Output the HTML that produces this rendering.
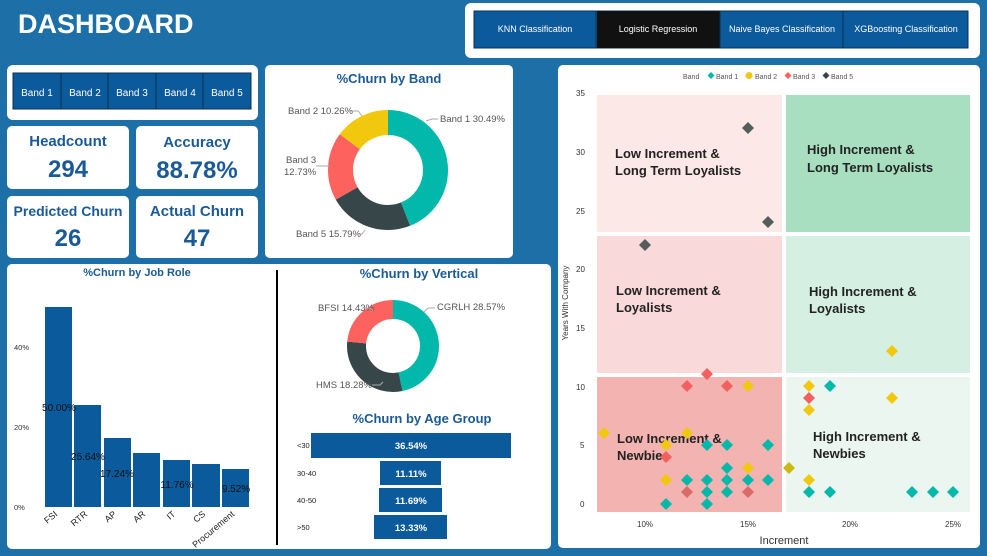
<!DOCTYPE html>
<html><head><meta charset="utf-8"><style>
body{margin:0;width:987px;height:556px;overflow:hidden;background:#1d6fa8}
svg{display:block}
text{font-family:"Liberation Sans",sans-serif}
</style></head><body>
<svg width="987" height="556" viewBox="0 0 987 556">
<rect width="987" height="556" fill="#1d6fa8"/>
<text x="18" y="33" font-size="27" font-weight="bold" fill="#fff">DASHBOARD</text>
<!-- model buttons -->
<rect x="465" y="3" width="515" height="55" rx="6" fill="#fff"/>
<rect x="474" y="11" width="494" height="37" fill="#0b5a9c" stroke="#0a3050"/>
<rect x="597" y="11" width="123" height="37" fill="#111"/>
<line x1="720" y1="11" x2="720" y2="48" stroke="#0a3050"/><line x1="843" y1="11" x2="843" y2="48" stroke="#0a3050"/><line x1="596" y1="11" x2="596" y2="48" stroke="#0a3050"/>
<g font-size="9" fill="#fff" text-anchor="middle">
<text x="535" y="32">KNN Classification</text><text x="658" y="32">Logistic Regression</text><text x="782" y="32">Naive Bayes Classification</text><text x="906" y="32">XGBoosting Classification</text></g>
<!-- band slicer -->
<rect x="7" y="65" width="251" height="55" rx="6" fill="#fff"/>
<rect x="13" y="73" width="238" height="36" fill="#0b5a9c" stroke="#0a3050"/>
<g stroke="#0a3050"><line x1="61" y1="73" x2="61" y2="109"/><line x1="108" y1="73" x2="108" y2="109"/><line x1="156" y1="73" x2="156" y2="109"/><line x1="203" y1="73" x2="203" y2="109"/></g>
<g font-size="10" fill="#fff" text-anchor="middle"><text x="37" y="96">Band 1</text><text x="85" y="96">Band 2</text><text x="132" y="96">Band 3</text><text x="180" y="96">Band 4</text><text x="227" y="96">Band 5</text></g>
<!-- KPIs -->
<g fill="#fff"><rect x="7" y="126" width="122" height="63" rx="5"/><rect x="136" y="126" width="122" height="63" rx="5"/><rect x="7" y="196" width="122" height="62" rx="5"/><rect x="136" y="196" width="122" height="62" rx="5"/></g>
<g fill="#1a5a96" font-weight="bold" text-anchor="middle">
<text x="68" y="146" font-size="15">Headcount</text><text x="68" y="177" font-size="24">294</text>
<text x="197" y="147" font-size="15">Accuracy</text><text x="197" y="178" font-size="24">88.78%</text>
<text x="68" y="216" font-size="14">Predicted Churn</text><text x="68" y="246" font-size="24">26</text>
<text x="197" y="216" font-size="15">Actual Churn</text><text x="197" y="246" font-size="24">47</text></g>
<!-- churn by band -->
<rect x="265" y="65" width="248" height="193" rx="5" fill="#fff"/>
<text x="389" y="83" font-size="13" font-weight="bold" fill="#1a5a96" text-anchor="middle">%Churn by Band</text>
<g fill="none" stroke-width="25">
<circle cx="388" cy="170" r="47.5" stroke="#01b8aa" stroke-dasharray="131.1 300" transform="rotate(-90 388 170)"/>
<circle cx="388" cy="170" r="47.5" stroke="#374649" stroke-dasharray="0 131.1 67.9 300" transform="rotate(-90 388 170)"/>
<circle cx="388" cy="170" r="47.5" stroke="#fd625e" stroke-dasharray="0 199 54.7 300" transform="rotate(-90 388 170)"/>
<circle cx="388" cy="170" r="47.5" stroke="#f2c80f" stroke-dasharray="0 253.7 44.8 300" transform="rotate(-90 388 170)"/>
</g>
<g font-size="9.5" fill="#555"><text x="440" y="122">Band 1 30.49%</text><text x="288" y="114">Band 2 10.26%</text><text x="286" y="163">Band 3</text><text x="284" y="175">12.73%</text><text x="296" y="237">Band 5 15.79%</text></g>
<g stroke="#aaa" fill="none"><path d="M348 111 H358 L362 116"/><path d="M426 121 L432 119 H438"/><path d="M316 166 H330"/><path d="M356 234 H362 L365 230"/></g>
<!-- bottom-left panel -->
<rect x="7" y="264" width="544" height="285" rx="5" fill="#fff"/>
<line x1="277" y1="270" x2="277" y2="545" stroke="#000" stroke-width="2"/>
<text x="137" y="276" font-size="11" font-weight="bold" fill="#1a5a96" text-anchor="middle">%Churn by Job Role</text>
<g font-size="7.5" fill="#333"><text x="14" y="350">40%</text><text x="14" y="430">20%</text><text x="14" y="510">0%</text></g>
<g fill="#0b5a9c">
<rect x="45" y="307" width="27" height="200"/><rect x="74" y="405" width="27" height="102"/><rect x="104" y="438" width="27" height="69"/><rect x="133" y="453" width="27" height="54"/><rect x="163" y="460" width="27" height="47"/><rect x="192" y="464" width="28" height="43"/><rect x="222" y="469" width="27" height="38"/></g>
<g font-size="10" fill="#111" text-anchor="middle"><text x="59" y="411">50.00%</text><text x="88" y="460">25.64%</text><text x="117" y="477">17.24%</text><text x="177" y="488">11.76%</text><text x="236" y="492">9.52%</text></g>
<g font-size="9" fill="#222" text-anchor="end">
<text transform="translate(58,515) rotate(-40)">FSI</text><text transform="translate(88,515) rotate(-40)">RTR</text><text transform="translate(117,515) rotate(-40)">AP</text><text transform="translate(146,515) rotate(-40)">AR</text><text transform="translate(176,515) rotate(-40)">IT</text><text transform="translate(206,515) rotate(-40)">CS</text><text transform="translate(235,515) rotate(-40)">Procurement</text></g>
<!-- vertical donut -->
<text x="419" y="278" font-size="13" font-weight="bold" fill="#1a5a96" text-anchor="middle">%Churn by Vertical</text>
<g fill="none" stroke-width="19">
<circle cx="393" cy="346" r="36.5" stroke="#01b8aa" stroke-dasharray="106.9 300" transform="rotate(-90 393 346)"/>
<circle cx="393" cy="346" r="36.5" stroke="#374649" stroke-dasharray="0 106.9 68.4 300" transform="rotate(-90 393 346)"/>
<circle cx="393" cy="346" r="36.5" stroke="#fd625e" stroke-dasharray="0 175.3 54 300" transform="rotate(-90 393 346)"/>
</g>
<g font-size="9.5" fill="#555"><text x="437" y="310">CGRLH 28.57%</text><text x="318" y="311">BFSI 14.43%</text><text x="316" y="388">HMS 18.28%</text></g>
<g stroke="#aaa" fill="none"><path d="M362 308 H370 L373 311"/><path d="M424 312 L428 308 H435"/><path d="M372 385 H380 L383 382"/></g>
<text x="422" y="423" font-size="13" font-weight="bold" fill="#1a5a96" text-anchor="middle">%Churn by Age Group</text>
<g fill="#0b5a9c"><rect x="311" y="433" width="200" height="25"/><rect x="380" y="461" width="61" height="24"/><rect x="379" y="488" width="63" height="24"/><rect x="374" y="515" width="73" height="24"/></g>
<g font-size="9.5" fill="#fff" text-anchor="middle" font-weight="bold"><text x="411" y="449">36.54%</text><text x="411" y="477">11.11%</text><text x="411" y="504">11.69%</text><text x="411" y="531">13.33%</text></g>
<g font-size="7.5" fill="#222"><text x="297" y="448">&lt;30</text><text x="297" y="476">30-40</text><text x="297" y="503">40-50</text><text x="297" y="530">&gt;50</text></g>
<!-- scatter -->
<rect x="558" y="65" width="422" height="483" rx="5" fill="#fff"/>
<rect x="597" y="95" width="185" height="137" fill="#fde8e8"/>
<rect x="786" y="95" width="184" height="137" fill="#a9dfc1"/>
<rect x="597" y="236" width="185" height="137" fill="#f9d9d9"/>
<rect x="786" y="236" width="184" height="137" fill="#d5efe2"/>
<rect x="597" y="377" width="185" height="135" fill="#f3b3b0"/>
<rect x="786" y="377" width="184" height="135" fill="#eaf6ef"/>
<g font-size="13" font-weight="bold" fill="#222" font-family="'DejaVu Sans',sans-serif" style="font-family:'DejaVu Sans',sans-serif">
<text x="615" y="158">Low Increment &amp;</text><text x="615" y="175">Long Term Loyalists</text>
<text x="807" y="154">High Increment &amp;</text><text x="807" y="172">Long Term Loyalists</text>
<text x="616" y="295">Low Increment &amp;</text><text x="616" y="312">Loyalists</text>
<text x="809" y="296">High Increment &amp;</text><text x="809" y="313">Loyalists</text>
<text x="617" y="443">Low Increment &amp;</text><text x="617" y="460">Newbies</text>
<text x="813" y="441">High Increment &amp;</text><text x="813" y="458">Newbies</text></g>
<g font-size="7" fill="#555"><text x="683" y="79">Band</text><text x="716" y="79">Band 1</text><text x="755" y="79">Band 2</text><text x="793" y="79">Band 3</text><text x="831" y="79">Band 5</text></g>
<g><path d="M711 72 l3.5 3.5 -3.5 3.5 -3.5 -3.5z" fill="#01b8aa"/><circle cx="749" cy="75.5" r="3.5" fill="#f2c80f"/><path d="M788 72 l3.5 3.5 -3.5 3.5 -3.5 -3.5z" fill="#fd625e"/><path d="M826 72 l3.5 3.5 -3.5 3.5 -3.5 -3.5z" fill="#374649"/></g>
<g font-size="8" fill="#333"><text x="576" y="96">35</text><text x="576" y="155">30</text><text x="576" y="214">25</text><text x="576" y="272">20</text><text x="576" y="331">15</text><text x="576" y="390">10</text><text x="580" y="448">5</text><text x="580" y="507">0</text>
<text x="637" y="527">10%</text><text x="740" y="527">15%</text><text x="842" y="527">20%</text><text x="945" y="527">25%</text></g>
<text x="784" y="544" font-size="11" fill="#333" text-anchor="middle">Increment</text>
<text transform="translate(568,303) rotate(-90)" font-size="8" fill="#333" text-anchor="middle">Years With Company</text>
<defs><path id="d" d="M0 -6 L6 0 L0 6 L-6 0Z"/></defs>
<g fill="#555c5c"><use href="#d" x="748" y="128"/><use href="#d" x="768" y="222"/><use href="#d" x="645" y="245"/></g>
<g fill="#01b8aa"><use href="#d" x="830" y="386"/><use href="#d" x="707" y="445"/><use href="#d" x="727" y="445"/><use href="#d" x="768" y="445"/><use href="#d" x="727" y="468"/><use href="#d" x="687" y="480"/><use href="#d" x="707" y="480"/><use href="#d" x="727" y="480"/><use href="#d" x="748" y="480"/><use href="#d" x="768" y="480"/><use href="#d" x="707" y="492"/><use href="#d" x="727" y="492"/><use href="#d" x="809" y="492"/><use href="#d" x="830" y="492"/><use href="#d" x="912" y="492"/><use href="#d" x="933" y="492"/><use href="#d" x="953" y="492"/><use href="#d" x="666" y="504"/><use href="#d" x="707" y="504"/></g>
<g fill="#f2c80f"><use href="#d" x="892" y="351"/><use href="#d" x="748" y="386"/><use href="#d" x="809" y="386"/><use href="#d" x="892" y="398"/><use href="#d" x="809" y="410"/><use href="#d" x="604" y="433"/><use href="#d" x="687" y="433"/><use href="#d" x="666" y="445"/><use href="#d" x="748" y="468"/><use href="#d" x="666" y="480"/><use href="#d" x="809" y="480"/></g>
<use href="#d" x="789" y="468" fill="#c8b80f"/>
<g fill="#f26060"><use href="#d" x="687" y="386"/><use href="#d" x="707" y="374"/><use href="#d" x="727" y="386"/><use href="#d" x="809" y="398"/><use href="#d" x="666" y="457"/></g>
<g fill="#d86a6a"><use href="#d" x="687" y="492"/><use href="#d" x="748" y="492"/></g>
</svg>
</body></html>
